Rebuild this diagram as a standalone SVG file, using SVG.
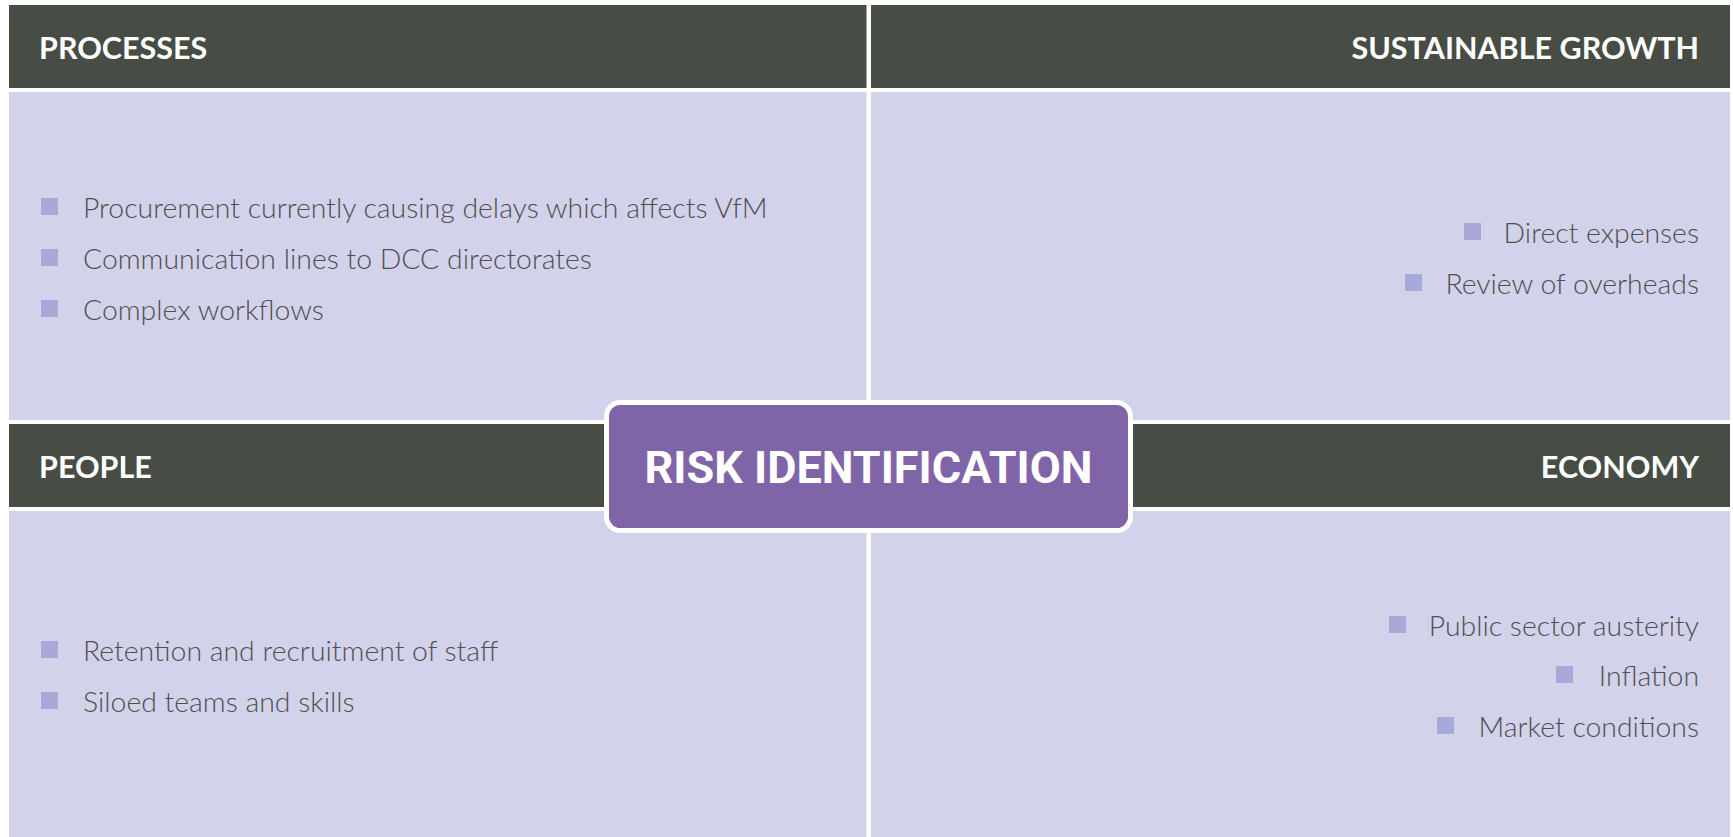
<svg xmlns="http://www.w3.org/2000/svg" width="1733" height="837" viewBox="0 0 1733 837">
  <style>
    .hdr { fill: #474d44; }
    .panel { fill: #d2d2ea; }
    .hdr-text { font-family: Lato, "Liberation Sans", sans-serif; font-weight: 700; font-size: 30.5px; fill: #ffffff; }
    .item { font-family: Lato, "Liberation Sans", sans-serif; font-weight: 300; font-size: 28.4px; fill: #4f4f4f; }
    .bullet { fill: #a9a9d8; }
    .center-box { fill: #8064a8; stroke: #ffffff; stroke-width: 5; }
    .center-text { font-family: Roboto, "Liberation Sans", sans-serif; font-weight: 700; font-size: 45px; fill: #ffffff; }
  </style>
  <defs>
    <rect id="sq" width="17" height="17" class="bullet"/>
  </defs>

  <rect width="1733" height="837" fill="#ffffff"/>

  <!-- Top-left quadrant -->
  <g id="processes">
    <rect class="hdr" x="9" y="5" width="857.5" height="83"/>
    <rect class="panel" x="9" y="92" width="857.5" height="328"/>
    <text class="hdr-text" x="39" y="59">PROCESSES</text>
    <use href="#sq" x="41" y="198"/>
    <text class="item" x="83" y="218">Procurement currently causing delays which affects VfM</text>
    <use href="#sq" x="41" y="249"/>
    <text class="item" x="83" y="269">Communication lines to DCC directorates</text>
    <use href="#sq" x="41" y="300"/>
    <text class="item" x="83" y="320">Complex workflows</text>
  </g>

  <!-- Top-right quadrant -->
  <g id="sustainable-growth">
    <rect class="hdr" x="871" y="5" width="859" height="83"/>
    <rect class="panel" x="871" y="92" width="859" height="328"/>
    <text class="hdr-text" x="1699" y="59" text-anchor="end">SUSTAINABLE GROWTH</text>
    <use href="#sq" x="1464" y="223"/>
    <text class="item" x="1699" y="243" text-anchor="end">Direct expenses</text>
    <use href="#sq" x="1405" y="274"/>
    <text class="item" x="1699" y="294" text-anchor="end">Review of overheads</text>
  </g>

  <!-- Bottom-left quadrant -->
  <g id="people">
    <rect class="hdr" x="9" y="424" width="857.5" height="83"/>
    <rect class="panel" x="9" y="511" width="857.5" height="326"/>
    <text class="hdr-text" x="39" y="478">PEOPLE</text>
    <use href="#sq" x="41" y="641"/>
    <text class="item" x="83" y="661">Retention and recruitment of staff</text>
    <use href="#sq" x="41" y="692"/>
    <text class="item" x="83" y="712">Siloed teams and skills</text>
  </g>

  <!-- Bottom-right quadrant -->
  <g id="economy">
    <rect class="hdr" x="871" y="424" width="859" height="83"/>
    <rect class="panel" x="871" y="511" width="859" height="326"/>
    <text class="hdr-text" x="1699" y="478" text-anchor="end">ECONOMY</text>
    <use href="#sq" x="1389" y="616"/>
    <text class="item" x="1699" y="636" text-anchor="end">Public sector austerity</text>
    <use href="#sq" x="1556" y="666"/>
    <text class="item" x="1699" y="686" text-anchor="end">Inflation</text>
    <use href="#sq" x="1437" y="717"/>
    <text class="item" x="1699" y="737" text-anchor="end">Market conditions</text>
  </g>

  <!-- Central label -->
  <g id="risk-identification">
    <rect class="center-box" x="606.5" y="402.5" width="524" height="128" rx="14" ry="14"/>
    <text class="center-text" x="868.5" y="483" text-anchor="middle">RISK IDENTIFICATION</text>
  </g>

  <g id="connectors"></g>
</svg>
